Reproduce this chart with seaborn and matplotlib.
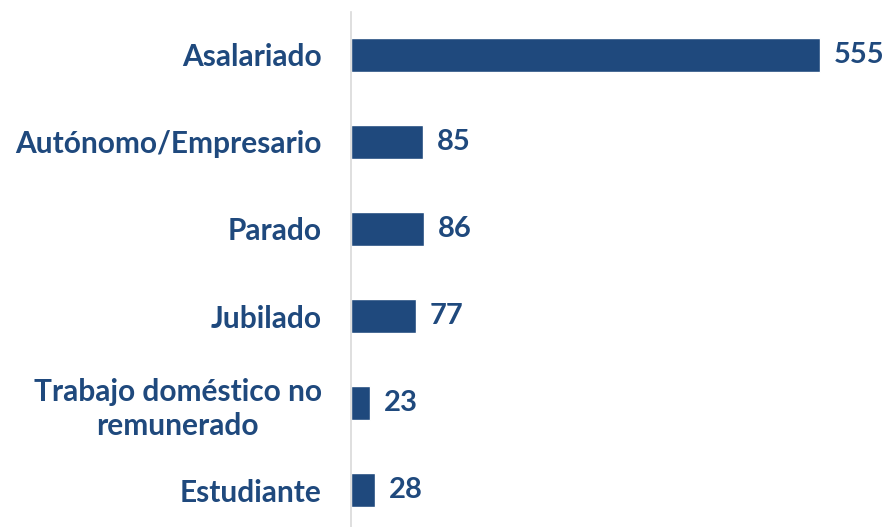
import numpy as np
import pandas as pd
import seaborn as sns
import matplotlib.pyplot as plt

# data
categorias = ["Asalariado", "Autónomo/Empresario", "Parado", "Jubilado",
              "Trabajo doméstico no\nremunerado", "Estudiante"]
valores = [555, 85, 86, 77, 23, 28]

azul = "#1F497D"

sns.set_style("white")
plt.rcParams['font.family'] = ['Lato', 'DejaVu Sans']

df = pd.DataFrame({"categoria": categorias, "valor": valores})

fig = plt.figure(figsize=(8.83, 5.27), dpi=100)
ax = fig.add_axes([351 / 883, 0, (883 - 351) / 883, (527 - 12) / 527])

sns.barplot(data=df, y="categoria", x="valor", orient="h", color=azul,
            saturation=1, width=0.39, ax=ax)

ax.set_xlim(0, 532 / 0.845)
ax.set_ylim(5.425, -0.494)
ax.set_xlabel("")
ax.set_ylabel("")
ax.set_xticks([])

for s in ["top", "right", "bottom"]:
    ax.spines[s].set_visible(False)
ax.spines["left"].set_color("#D9D9D9")
ax.spines["left"].set_linewidth(1.2)

ax.tick_params(axis="y", length=0, pad=21)
for lab in ax.get_yticklabels():
    lab.set_fontsize(21.5)
    lab.set_fontweight("bold")
    lab.set_color(azul)
    lab.set_multialignment("center")
    lab.set_linespacing(1.3)

for c in ax.containers:
    ax.bar_label(c, padding=10, fontsize=21, fontweight="bold", color=azul)

fig.savefig("out.png", dpi=100)
